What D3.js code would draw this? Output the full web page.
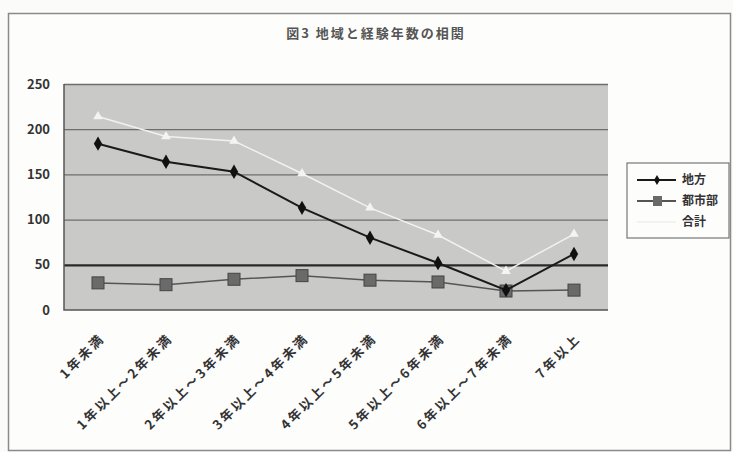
<!DOCTYPE html>
<html>
<head>
<meta charset="utf-8">
<script src="https://cdn.jsdelivr.net/npm/d3@7"></script>
<style>
  body { margin: 0; background: #fbfbfa; }
  svg { display: block; }
</style>
</head>
<body>
<div id="chart"></div>
<script>
const categories = ['1年未満', '1年以上～2年未満', '2年以上～3年未満', '3年以上～4年未満',
  '4年以上～5年未満', '5年以上～6年未満', '6年以上～7年未満', '7年以上']
const chihou = [184, 164, 153, 113, 80, 52, 22, 62]
const toshibu = [30, 28, 34, 38, 33, 31, 21, 22]
const goukei = [214, 192, 187, 151, 113, 83, 43, 84]
const yTicks = [0, 50, 100, 150, 200, 250]
const seriesNames = ['地方', '都市部', '合計']

const width = 733, height = 452
const margin = { top: 84, right: 125, bottom: 142, left: 64 }
const plotW = width - margin.left - margin.right
const plotH = height - margin.top - margin.bottom
const font = '"Noto Sans CJK JP", "Noto Sans", sans-serif'

const svg = d3.select('#chart').append('svg')
  .attr('width', width)
  .attr('height', height)

// outer frame
svg.append('rect')
  .attr('x', 8.5).attr('y', 13.5)
  .attr('width', 722).attr('height', 437)
  .attr('fill', '#fdfdfc')
  .attr('stroke', '#8a8a8a')
  .attr('stroke-width', 1.5)

svg.append('text')
  .attr('x', 376).attr('y', 38)
  .attr('text-anchor', 'middle')
  .attr('font-family', font)
  .attr('font-size', 13)
  .attr('letter-spacing', 2)
  .attr('font-weight', 'bold')
  .attr('fill', '#555')
  .text('図3  地域と経験年数の相関')

const x = d3.scaleBand().domain(categories).range([0, plotW])
const y = d3.scaleLinear().domain([0, 250]).range([plotH, 0])
const cx = d => x(d) + x.bandwidth() / 2

const g = svg.append('g').attr('transform', `translate(${margin.left},${margin.top})`)

g.append('rect')
  .attr('width', plotW).attr('height', plotH)
  .attr('fill', '#c9c9c7')

// grid lines
g.append('g')
  .call(d3.axisRight(y).tickValues(yTicks.slice(1)).tickSize(plotW).tickFormat(''))
  .call(s => s.select('.domain').remove())
  .call(s => s.selectAll('.tick line')
    .attr('stroke', d => d === 50 ? '#2a2a2a' : '#6e6e6e')
    .attr('stroke-width', d => d === 50 ? 2.2 : 1.3))

// left + bottom border
g.append('path')
  .attr('d', `M0,0V${plotH}H${plotW}`)
  .attr('fill', 'none').attr('stroke', '#555').attr('stroke-width', 1.5)

// y axis
const gy = g.append('g')
  .call(d3.axisLeft(y).tickValues(yTicks).tickSize(0).tickPadding(14))
gy.select('.domain').remove()
gy.selectAll('.tick text')
  .attr('font-family', font)
  .attr('font-size', 13)
  .attr('font-weight', 'bold')
  .attr('fill', '#333')

// x axis
const gx = g.append('g')
  .attr('transform', `translate(0,${plotH})`)
  .call(d3.axisBottom(x).tickSize(0))
gx.select('.domain').remove()
gx.selectAll('.tick text')
  .attr('font-family', font)
  .attr('font-size', 13)
  .attr('letter-spacing', 2.5)
  .attr('font-weight', 'bold')
  .attr('fill', '#333')
  .attr('text-anchor', 'end')
  .attr('transform', 'translate(2,24) rotate(-45)')
  .attr('dy', '0.35em')

const line = d3.line().x((d, i) => cx(categories[i])).y(d => y(d))

// 合計 (white triangles)
g.append('path').datum(goukei)
  .attr('d', line).attr('fill', 'none')
  .attr('stroke', '#f2f2f0').attr('stroke-width', 1.5)
g.selectAll('.tri').data(goukei).enter().append('path')
  .attr('class', 'tri')
  .attr('d', d3.symbol(d3.symbolTriangle, 40))
  .attr('transform', (d, i) => `translate(${cx(categories[i])},${y(d)})`)
  .attr('fill', '#f4f4f2')

// 都市部 (grey squares)
g.append('path').datum(toshibu)
  .attr('d', line).attr('fill', 'none')
  .attr('stroke', '#555').attr('stroke-width', 1.5)
g.selectAll('.sq').data(toshibu).enter().append('rect')
  .attr('class', 'sq')
  .attr('x', (d, i) => cx(categories[i]) - 6)
  .attr('y', d => y(d) - 6)
  .attr('width', 12).attr('height', 12)
  .attr('fill', '#6a6a6a').attr('stroke', '#444')

// 地方 (black diamonds)
g.append('path').datum(chihou)
  .attr('d', line).attr('fill', 'none')
  .attr('stroke', '#1a1a1a').attr('stroke-width', 2)
g.selectAll('.dia').data(chihou).enter().append('path')
  .attr('class', 'dia')
  .attr('d', d3.symbol(d3.symbolDiamond, 60))
  .attr('transform', (d, i) => `translate(${cx(categories[i])},${y(d)})`)
  .attr('fill', '#111')

// legend
const lg = svg.append('g').attr('transform', 'translate(627,163)')
lg.append('rect')
  .attr('width', 102).attr('height', 75)
  .attr('fill', '#fdfdfc').attr('stroke', '#777').attr('stroke-width', 1.2)
const legendItems = lg.selectAll('.li').data(seriesNames).enter().append('g')
  .attr('transform', (d, i) => `translate(0,${17 + i * 21})`)
legendItems.append('line')
  .attr('x1', 10).attr('x2', 49)
  .attr('stroke', (d, i) => ['#1a1a1a', '#555', '#f2f2f0'][i])
  .attr('stroke-width', 2)
legendItems.filter((d, i) => i === 0).append('path')
  .attr('d', d3.symbol(d3.symbolDiamond, 30))
  .attr('transform', 'translate(30,0)').attr('fill', '#111')
legendItems.filter((d, i) => i === 1).append('rect')
  .attr('x', 26).attr('y', -5).attr('width', 9).attr('height', 10)
  .attr('fill', '#6a6a6a')
legendItems.append('text')
  .attr('x', 55).attr('dy', '0.35em')
  .attr('font-family', font)
  .attr('font-size', 12)
  .attr('font-weight', 'bold')
  .attr('fill', '#333')
  .text(d => d)
</script>
</body>
</html>
